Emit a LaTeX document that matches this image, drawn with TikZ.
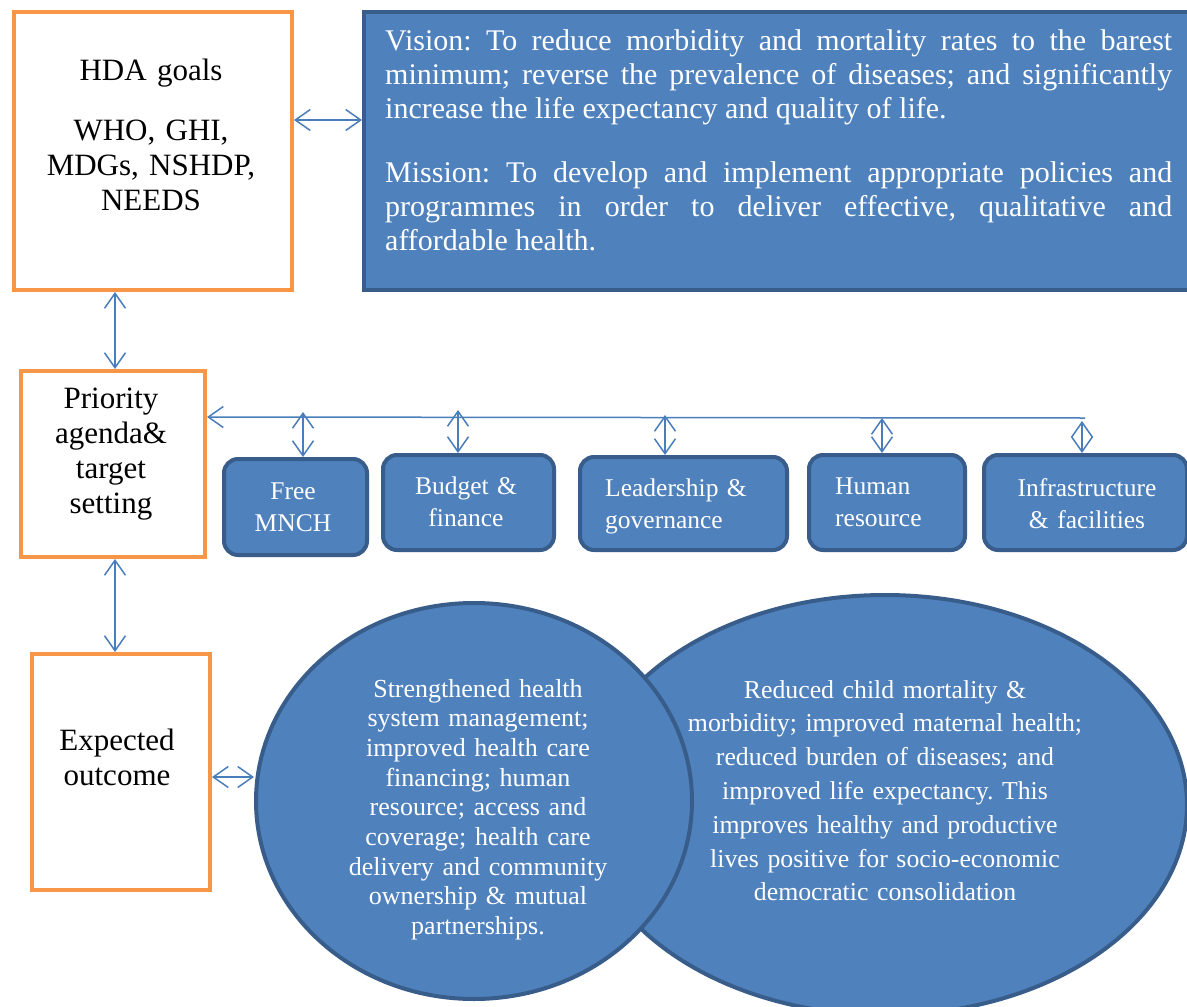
\documentclass[tikz,border=0pt]{standalone}
\usepackage{fontspec}
\setmainfont{Liberation Serif}
\frenchspacing
\usetikzlibrary{arrows.meta,shapes.geometric,calc}
\definecolor{bfill}{HTML}{4F81BD}
\definecolor{bdraw}{HTML}{385D8A}
\definecolor{oline}{HTML}{F79646}
\definecolor{arrc}{HTML}{4A7EBB}
\begin{document}
\begin{tikzpicture}[x=1pt,y=-1pt,
  obox/.style={draw=oline, line width=4pt, fill=white, inner sep=0pt},
  bbox/.style={draw=bdraw, line width=4pt, fill=bfill, inner sep=0pt},
  rbox/.style={bbox, rounded corners=14pt},
  ebox/.style={bbox, ellipse},
  bigtxt/.style={font=\fontsize{31}{35}\selectfont, inner sep=0pt, text width=240pt, align=center},
  vtxt/.style={font=\fontsize{30}{34}\selectfont, inner sep=0pt, text=white, text width=787pt, align=justify},
  stxt/.style={font=\fontsize{25.5}{32}\selectfont, inner sep=0pt, text=white, text width=200pt, align=center},
  sltxt/.style={stxt, align=left},
  etxtA/.style={font=\fontsize{26}{29.7}\selectfont, inner sep=0pt, text=white, text width=300pt, align=center},
  etxtB/.style={font=\fontsize{25.8}{33.8}\selectfont, inner sep=0pt, text=white, text width=420pt, align=center},
  tipb/.tip={Straight Barb[length=15pt,width=21pt]},
  dbl/.style={draw=arrc, line width=1.5pt, tipb-tipb},
  sgl/.style={draw=arrc, line width=1.5pt, -tipb}]
\path[use as bounding box, fill=white] (0,0) rectangle (1187,1007);
\clip (0,0) rectangle (1187,1007);

% top row
\node[obox, anchor=north west, minimum width=278pt, minimum height=278pt] (hda) at (12,10) {};
\node[bigtxt, anchor=base] (hdat) at (151,80) {HDA goals\\[25pt]WHO, GHI,\\MDGs, NSHDP,\\NEEDS};
\node[bbox, anchor=north west, minimum width=850pt, minimum height=278pt] (vis) at (362,10) {};
\node[vtxt, anchor=base west] (vist) at (385,50) {Vision: To reduce morbidity and mortality rates to the barest\linebreak minimum; reverse the prevalence of diseases; and significantly\linebreak increase the life expectancy and quality of life.};
\node[vtxt, anchor=base west] (mist) at (385,182) {Mission: To develop and implement appropriate policies and\linebreak programmes in order to deliver effective, qualitative and\linebreak affordable health.};

% left column
\node[obox, anchor=north west, minimum width=184pt, minimum height=186pt] (pri) at (19,369) {};
\node[bigtxt, anchor=base] (prit) at (111,408) {Priority\\agenda\&\\target\\setting};
\node[obox, anchor=north west, minimum width=178pt, minimum height=236pt] (exp) at (30,652) {};
\node[bigtxt, anchor=base] (expt) at (117,750) {Expected\\outcome};

% small boxes
\node[rbox, anchor=north west, minimum width=143pt, minimum height=96pt] (b1) at (222,457) {};
\node[stxt, anchor=base] (b1t) at (293,499) {Free\\MNCH};
\node[rbox, anchor=north west, minimum width=171pt, minimum height=95pt] (b2) at (381,453) {};
\node[stxt, anchor=base] (b2t) at (466,494) {Budget \&\\finance};
\node[rbox, anchor=north west, minimum width=207pt, minimum height=93pt] (b3) at (578,455) {};
\node[sltxt, anchor=base west] (b3t) at (605,496) {Leadership \&\\governance};
\node[rbox, anchor=north west, minimum width=156pt, minimum height=95pt] (b4) at (807,453) {};
\node[sltxt, anchor=base west] (b4t) at (835,494) {Human\\resource};
\node[rbox, anchor=north west, minimum width=203pt, minimum height=95pt] (b5) at (982,453) {};
\node[stxt, anchor=base] (b5t) at (1087,496) {Infrastructure\\\& facilities};

% ellipses
\node[ebox, minimum width=604pt, minimum height=420pt] (er) at (885,805) {};
\node[ebox, minimum width=436pt, minimum height=396pt] (el) at (474,801) {};
\node[etxtA, anchor=base] (elt) at (478,697) {Strengthened health\\system management;\\improved health care\\financing; human\\resource; access and\\coverage; health care\\delivery and community\\ownership \& mutual\\partnerships.};
\node[etxtB, anchor=base] (ert) at (885,698) {Reduced child mortality \&\\morbidity; improved maternal health;\\reduced burden of diseases; and\\improved life expectancy. This\\improves healthy and productive\\lives positive for socio-economic\\democratic consolidation};

% connectors
\draw[dbl] ([yshift=31pt]hda.east) -- ([yshift=31pt]vis.west);
\draw[dbl] ([xshift=-38pt]hda.south) -- ([xshift=2pt]pri.north);
\draw[dbl] ([xshift=2pt]pri.south) -- ([xshift=-6pt]exp.north);
\coordinate (ea) at ([yshift=-5pt]exp.east);
\draw[dbl] (ea) -- (ea -| el.west);

\coordinate (busR) at (1085,418);
\draw[sgl] (busR) -- ([yshift=47pt]pri.east);
\coordinate (t1) at (303,412);
\coordinate (t2) at (458,410);
\coordinate (t3) at (665,415);
\coordinate (t4) at (882,418);
\coordinate (t5) at (1082,421);
\draw[dbl] (t1) -- (t1 |- b1.north);
\draw[dbl] (t2) -- (t2 |- b2.north);
\draw[dbl] (t3) -- (t3 |- b3.north);
\draw[dbl] (t4) -- (t4 |- b4.north);
\draw[dbl] (t5) -- (t5 |- b5.north);
\end{tikzpicture}
\end{document}
